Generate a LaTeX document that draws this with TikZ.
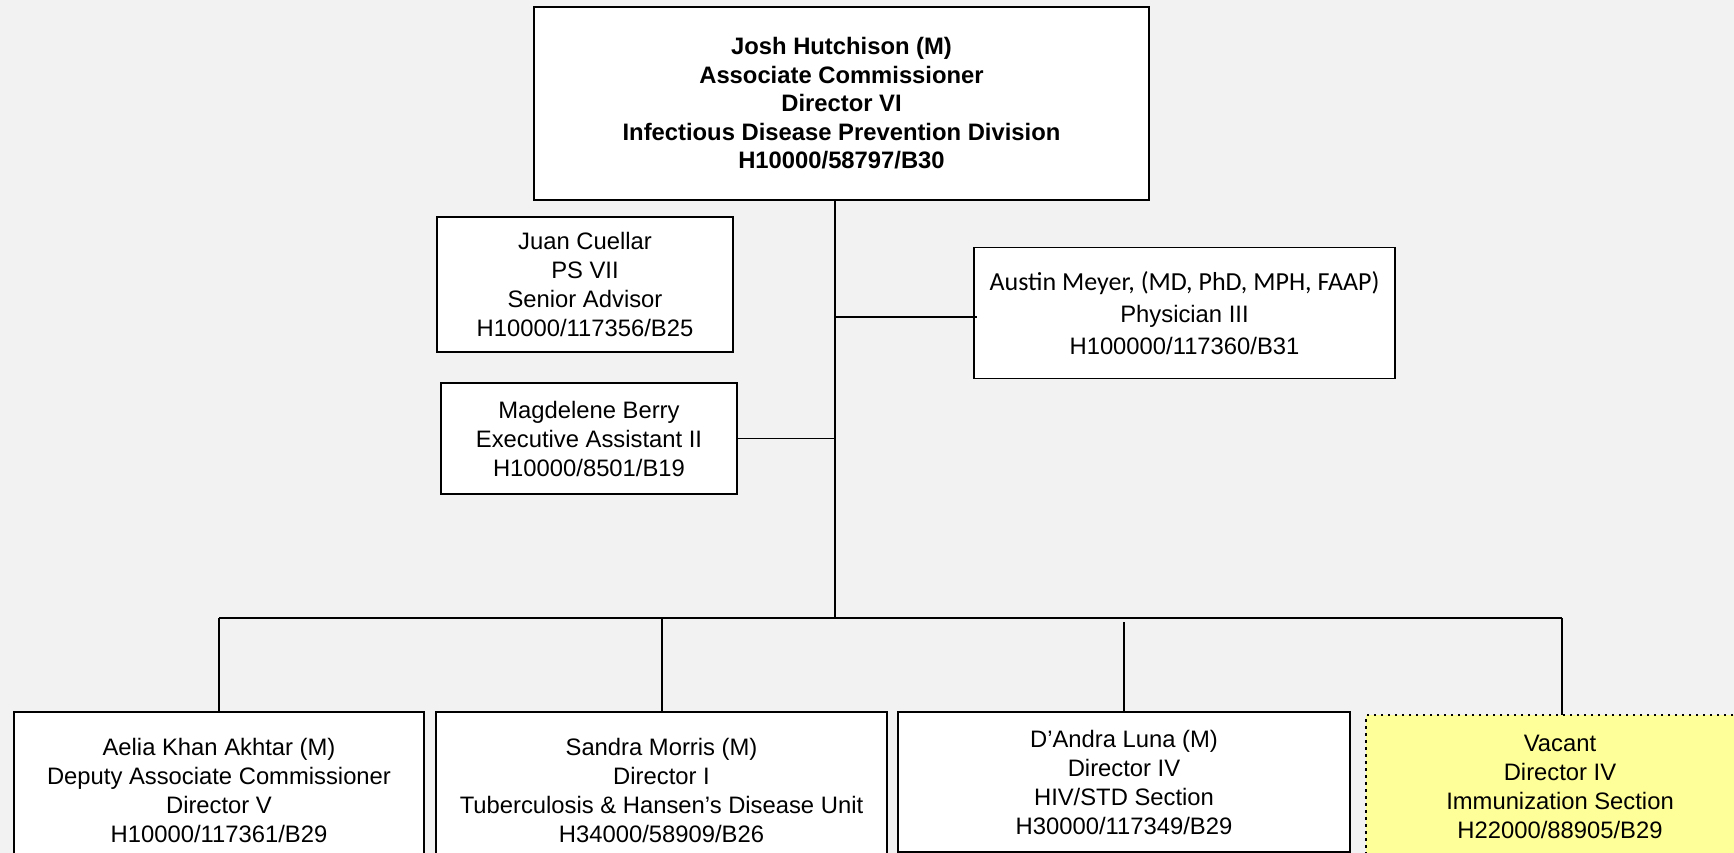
\documentclass[tikz,border=0pt]{standalone}
\usepackage{fontspec}
\setmainfont{Liberation Sans}
\newfontfamily\calib{Carlito}
\usetikzlibrary{calc}
\definecolor{bgc}{HTML}{F2F2F2}
\definecolor{vacant}{HTML}{FFFF99}
\begin{document}
\begin{tikzpicture}[x=1pt,y=-1pt,
  every node/.style={inner sep=0pt, outer sep=0pt, align=center},
  box/.style={draw=black, fill=white, line width=1.4pt, font=\fontsize{23.8}{29}\selectfont},
  mainbox/.style={box, line width=2.7pt, font=\bfseries\fontsize{23.8}{28.5}\selectfont},
  unitbox/.style={box, line width=2.7pt},
  vacbox/.style={box, fill=vacant, line width=2.5pt, dash pattern=on 2.5pt off 4.5pt},
  conn/.style={draw=black, line width=1.6pt},
  thin/.style={draw=black, line width=1.3pt}
]
\useasboundingbox (0,0) rectangle (1734,853);
\clip (0,0) rectangle (1734,853);
\fill[bgc] (0,0) rectangle (1734,853);

% nodes
\node[mainbox, minimum width=615pt, minimum height=193pt] (top) at (841.5,103.5)
  {Josh Hutchison (M)\\Associate Commissioner\\Director VI\\Infectious Disease Prevention Division\\H10000/58797/B30};
\node[box, minimum width=296pt, minimum height=135pt] (juan) at (585,284.5)
  {Juan Cuellar\\PS VII\\Senior Advisor\\H10000/117356/B25};
\node[box, minimum width=296pt, minimum height=111pt] (mag) at (589,438.5)
  {Magdelene Berry\\Executive Assistant II\\H10000/8501/B19};
\node[box, minimum width=421pt, minimum height=131pt, font=\fontsize{23.8}{32}\selectfont] (aus) at (1184.5,313)
  {{\calib\fontsize{26}{32}\selectfont Austin Meyer, (MD, PhD, MPH, FAAP)}\\Physician III\\H100000/117360/B31};

\node[unitbox, minimum width=410pt, minimum height=156pt] (b1) at (219,790)
  {Aelia Khan Akhtar (M)\\Deputy Associate Commissioner\\Director V\\H10000/117361/B29};
\node[unitbox, minimum width=451pt, minimum height=156pt] (b2) at (661.5,790)
  {Sandra Morris (M)\\Director I\\Tuberculosis \& Hansen’s Disease Unit\\H34000/58909/B26};
\node[unitbox, minimum width=452pt, minimum height=140pt] (b3) at (1124,782)
  {D’Andra Luna (M)\\Director IV\\HIV/STD Section\\H30000/117349/B29};
\node[vacbox, minimum width=388pt, minimum height=144pt] (b4) at (1560,787)
  {Vacant\\Director IV\\Immunization Section\\H22000/88905/B29};

% junctions
\coordinate (bar) at (835,618);
\coordinate (ausj) at (835,317);
\coordinate (barL) at (219,618);
\coordinate (barR) at (1562,618);

% connectors
\draw[conn] (top.south -| bar) -- (bar);
\draw[conn] (barL) -- (barR);
\draw[thin] (ausj) -- ($(ausj -| aus.west)+(3,0)$);
\draw[thin] (mag.east) -- (mag.east -| bar);
\draw[thin] (barL) -- (b1.north -| barL);
\draw[thin] (bar -| 662,0) -- (b2.north -| 662,0);
\draw[thin] ($(b3.north)+(0,-90)$) -- (b3.north);
\draw[thin] (barR) -- (b4.north -| barR);
\end{tikzpicture}
\end{document}
